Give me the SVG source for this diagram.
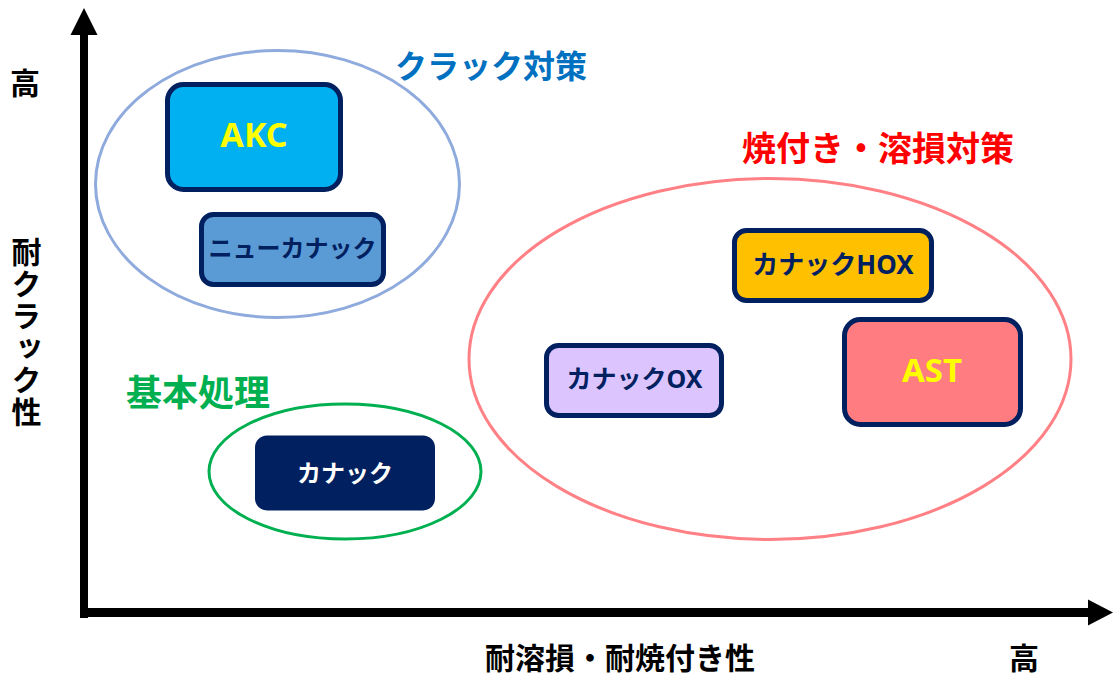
<svg xmlns="http://www.w3.org/2000/svg" width="1115" height="678" viewBox="0 0 1115 678">
<style>
text{font-family:"Noto Sans","Noto Sans CJK JP",sans-serif;font-weight:bold}
.lbl{font-size:30px;fill:#000;text-anchor:middle}
.box{stroke:#002060;stroke-width:5}
.ell{fill:none;stroke-width:3}
.nt{fill:#002060;text-anchor:middle}
.yt{fill:#FFFF00;text-anchor:middle}
</style>
<rect width="1115" height="678" fill="#fff"/>
<g id="axes">
<rect x="80" y="34" width="8" height="584" fill="#000"/>
<polygon points="84,8 97.5,35 70.5,35" fill="#000"/>
<rect x="80" y="608" width="1010" height="9" fill="#000"/>
<polygon points="1113,612.5 1088,599.5 1088,625.5" fill="#000"/>
</g>
<g id="axis-labels">
<text class="lbl" x="25" y="94">高</text>
<text x="25" y="237" font-size="30" fill="#000" writing-mode="vertical-rl" letter-spacing="2">耐クラック性</text>
<text class="lbl" x="620" y="669">耐溶損・耐焼付き性</text>
<text class="lbl" x="1024" y="669">高</text>
</g>
<g id="group-crack">
<ellipse class="ell" cx="277.5" cy="184" rx="182" ry="133.5" stroke="#8FAADC"/>
<text x="491" y="78" font-size="32" fill="#0070C0" text-anchor="middle">クラック対策</text>
</g>
<g id="group-burn">
<ellipse class="ell" cx="770" cy="359" rx="301" ry="180.5" stroke="#FF8085"/>
<text x="878" y="161" font-size="34" fill="#FF0000" text-anchor="middle">焼付き・溶損対策</text>
</g>
<g id="group-basic">
<ellipse class="ell" cx="345" cy="471.5" rx="136" ry="67.5" stroke="#00B050"/>
<text x="198" y="406" font-size="36" fill="#00B050" text-anchor="middle">基本処理</text>
</g>
<g id="node-akc">
<rect class="box" x="167.5" y="84.5" width="173" height="105" rx="16" fill="#00B0F0"/>
<text class="yt" x="254" y="147" font-size="34">AKC</text>
</g>
<g id="node-new-kanac">
<rect class="box" x="201.5" y="214.5" width="182" height="70" rx="12" fill="#5B9BD5"/>
<text class="nt" x="292.5" y="257" font-size="24">ニューカナック</text>
</g>
<g id="node-hox">
<rect class="box" x="734.5" y="230.5" width="197" height="70" rx="12" fill="#FFC000"/>
<text class="nt" x="833" y="274" font-size="26">カナックHOX</text>
</g>
<g id="node-ast">
<rect class="box" x="844.5" y="319.5" width="176" height="105" rx="16" fill="#FF7C80"/>
<text class="yt" x="932" y="382" font-size="33">AST</text>
</g>
<g id="node-ox">
<rect class="box" x="546.5" y="345.5" width="175" height="70" rx="12" fill="#DCC5FF"/>
<text class="nt" x="634.5" y="388" font-size="25">カナックOX</text>
</g>
<g id="node-kanac">
<rect x="255" y="435.5" width="180" height="75" rx="12" fill="#002060"/>
<text x="345" y="482" font-size="24" fill="#fff" text-anchor="middle">カナック</text>
</g>
<g id="connectors"></g>
</svg>
